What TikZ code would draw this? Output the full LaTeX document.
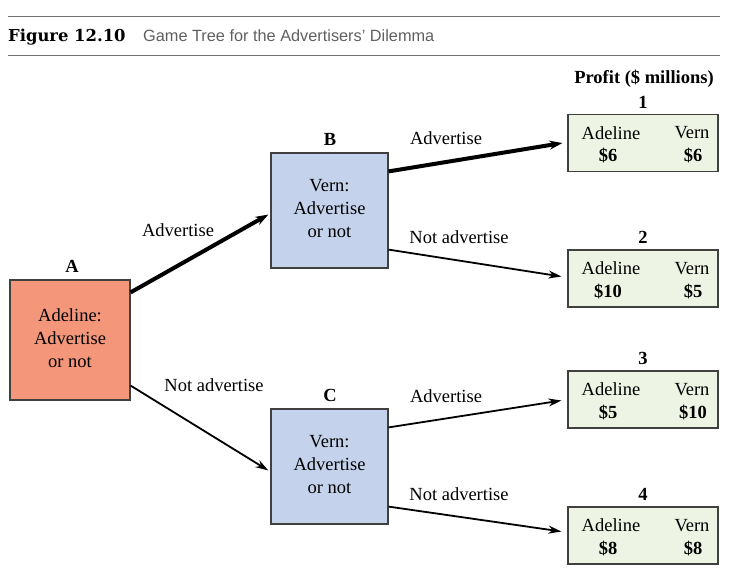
\documentclass[tikz,border=0pt]{standalone}
\usepackage{fontspec}
\setmainfont{Liberation Serif}
\newfontfamily\capsans{Liberation Sans}
\newfontfamily\figserif{DejaVu Serif}
\usetikzlibrary{arrows.meta}
\definecolor{salmon}{HTML}{F4967A}
\definecolor{bluefill}{HTML}{C4D2EC}
\definecolor{greenfill}{HTML}{EEF4E3}
\definecolor{edgegray}{HTML}{404040}
\definecolor{rulegray}{HTML}{707070}
\definecolor{capgray}{HTML}{606060}
\tikzset{
  txt/.style={font=\fontsize{18.5}{23}\selectfont, inner sep=0pt, align=center},
  btxt/.style={font=\fontsize{18.5}{23}\selectfont\bfseries, inner sep=0pt, align=center},
  decbox/.style={draw=edgegray, line width=1.2pt, minimum width=117pt, minimum height=115pt, inner sep=0pt, align=center, font=\fontsize{18.5}{23}\selectfont},
  paybox/.style={draw=edgegray, fill=greenfill, line width=1.2pt, minimum width=150pt, minimum height=57pt, inner sep=0pt},
  thickarr/.style={line width=4pt, -{Stealth[length=13pt, width=9pt]}},
  thinarr/.style={line width=1.8pt, -{Stealth[length=13pt, width=8pt]}},
}
\begin{document}
\begin{tikzpicture}[x=1pt, y=-1pt]
\useasboundingbox (0,0) rectangle (729,574);
% header
\draw[rulegray, line width=1pt] (8,16) -- (720,16);
\draw[rulegray, line width=1pt] (8,55) -- (720,55);
\node[anchor=west, inner sep=0pt, font=\figserif\bfseries\fontsize{16.4}{18}\selectfont] (fig) at (8,37) {Figure 12.10};
\node[anchor=west, inner sep=0pt, text=capgray, font=\capsans\fontsize{16.3}{18}\selectfont] (cap) at (143,36) {Game Tree for the Advertisers’ Dilemma};
% decision boxes
\node[decbox, fill=salmon, minimum width=120pt, minimum height=120pt] (A) at (70,340) {};
\node[decbox, fill=bluefill] (B) at (329.5,210.5) {};
\node[decbox, fill=bluefill] (C) at (329.5,466.5) {};
\node[txt] (At) at (70,338) {Adeline:\\Advertise\\or not};
\node[txt] (Bt) at (329.5,208.5) {Vern:\\Advertise\\or not};
\node[txt] (Ct) at (329.5,464.5) {Vern:\\Advertise\\or not};
\node[btxt] (la) at (72,266) {A};
\node[btxt] (lb) at (330,139) {B};
\node[btxt] (lc) at (330,395) {C};
% payoff boxes
\node[btxt] (profit) at (644,79) {Profit (\$ millions)};
\foreach \n/\y/\a/\v in {1/143/\$6/\$6, 2/278.5/\$10/\$5, 3/399.5/\$5/\$10, 4/535.5/\$8/\$8}{
  \node[paybox] (P\n) at (643,\y) {};
  \node[btxt] (N\n) at (643,\y-41) {\n};
  \node[txt] (PA\n) at (611,\y-10) {Adeline};
  \node[txt] (PV\n) at (692,\y-10) {Vern};
  \node[btxt] (PX\n) at (608,\y+13) {\a};
  \node[btxt] (PY\n) at (693,\y+13) {\v};
}
% connectors
\draw[thickarr] ([yshift=-13pt]A.north east) -- ([xshift=-2pt,yshift=-4pt]B.west);
\draw[thinarr] ([yshift=15pt]A.south east) -- ([xshift=-2pt,yshift=-4pt]C.west);
\draw[thickarr] ([yshift=-19pt]B.north east) -- ([xshift=-5pt]P1.west);
\draw[thinarr] ([yshift=19pt]B.south east) -- ([xshift=-6pt,yshift=2pt]P2.west);
\draw[thinarr] ([yshift=-19pt]C.north east) -- ([xshift=-6pt,yshift=-1pt]P3.west);
\draw[thinarr] ([yshift=18pt]C.south east) -- ([xshift=-6pt,yshift=4pt]P4.west);
% branch labels
\node[txt] (t1) at (178,230) {Advertise};
\node[txt] (t2) at (214,385) {Not advertise};
\node[txt] (t3) at (446,138) {Advertise};
\node[txt] (t4) at (459,237) {Not advertise};
\node[txt] (t5) at (446,396) {Advertise};
\node[txt] (t6) at (459,494) {Not advertise};
\end{tikzpicture}
\end{document}
